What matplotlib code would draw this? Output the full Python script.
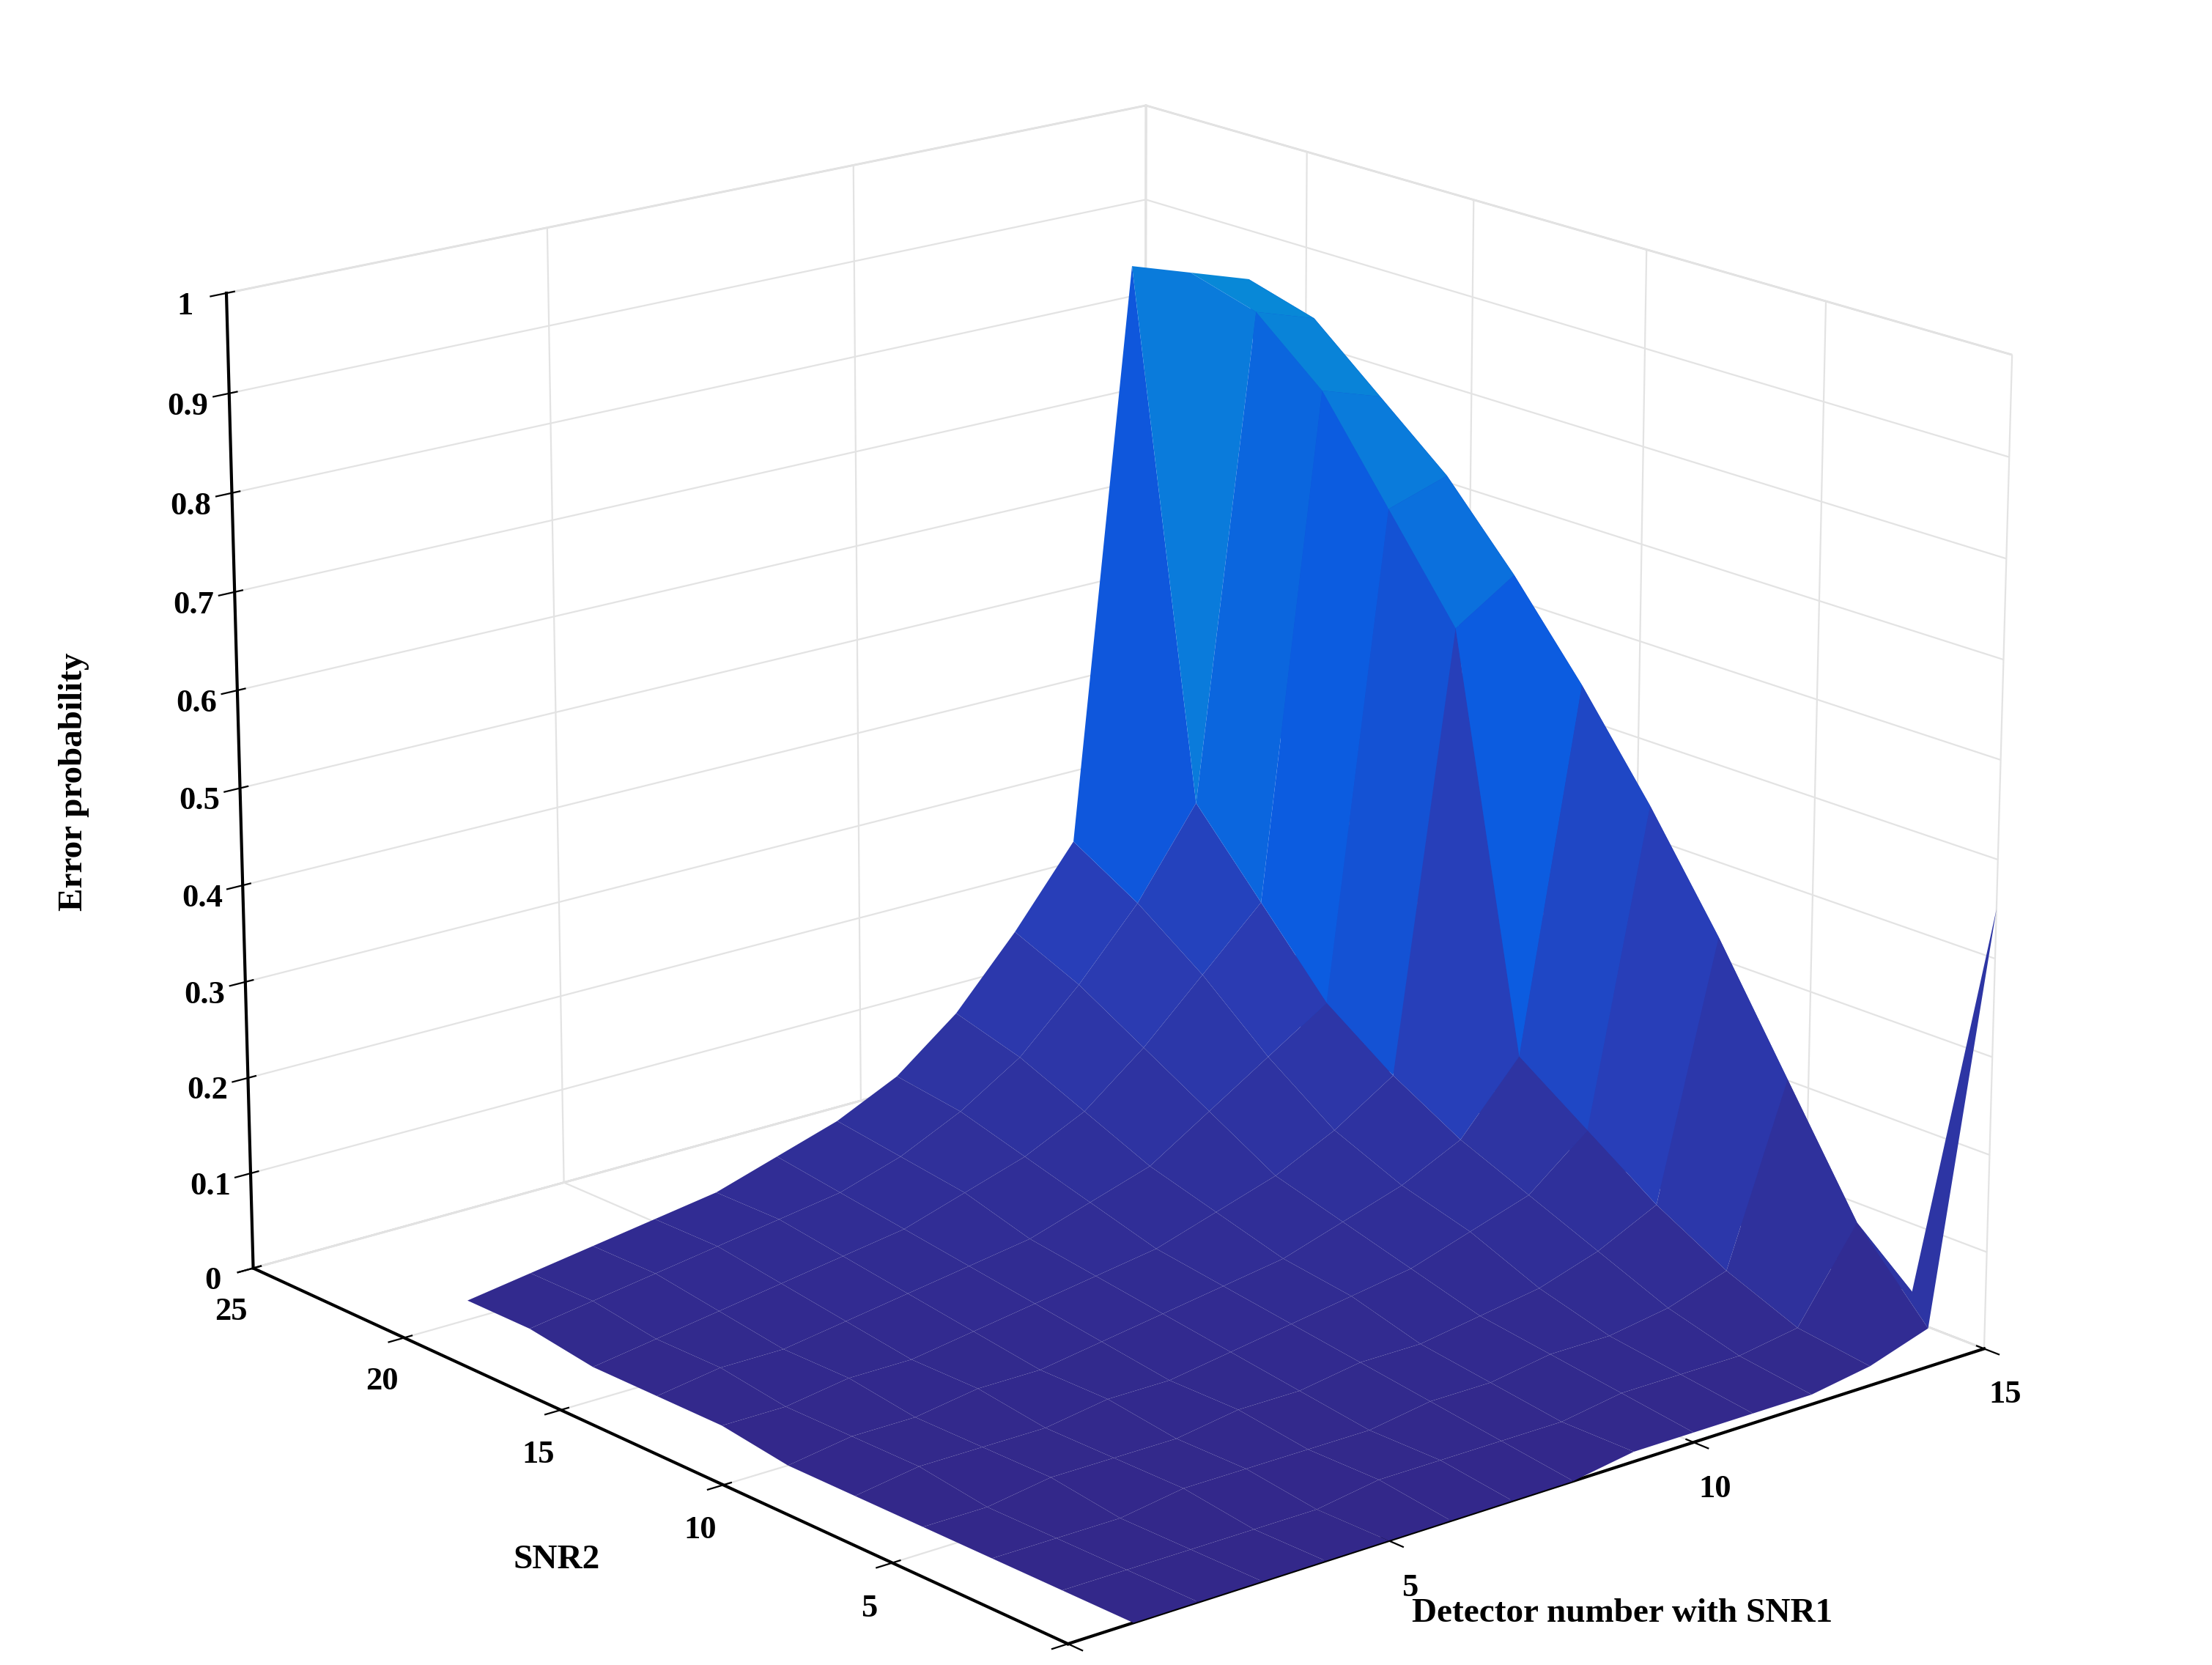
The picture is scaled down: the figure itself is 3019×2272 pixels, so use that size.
import numpy as np
import matplotlib.pyplot as plt
from matplotlib.colors import LinearSegmentedColormap

plt.rcParams['font.family'] = ['Liberation Serif', 'DejaVu Serif']
plt.rcParams['font.weight'] = 'bold'

# detector number with SNR1 (columns) and SNR2 (rows)
detector = [1, 2, 3, 4, 5, 6, 7, 8, 9, 10, 11, 12, 13, 14, 15]
snr2 = [0, 2, 4, 6, 8, 10, 12, 14, 16, 18, 20]

# estimated error probability, one row per SNR2 value
err_prob = [
    [0.00, 0.00, 0.00, 0.00, 0.00, 0.00, 0.00, 0.00, 0.01, 0.01, 0.01, 0.01, 0.02, 0.04, 0.45],
    [0.00, 0.00, 0.00, 0.00, 0.00, 0.01, 0.01, 0.01, 0.01, 0.02, 0.02, 0.02, 0.03, 0.12, 0.03],
    [0.00, 0.00, 0.00, 0.01, 0.01, 0.01, 0.01, 0.02, 0.02, 0.03, 0.03, 0.04, 0.06, 0.24, 0.02],
    [0.00, 0.00, 0.01, 0.01, 0.01, 0.02, 0.02, 0.03, 0.03, 0.04, 0.05, 0.07, 0.10, 0.36, 0.03],
    [0.00, 0.01, 0.01, 0.01, 0.02, 0.02, 0.03, 0.04, 0.05, 0.06, 0.08, 0.10, 0.15, 0.47, 0.03],
    [0.00, 0.01, 0.01, 0.02, 0.02, 0.03, 0.04, 0.05, 0.06, 0.08, 0.10, 0.13, 0.20, 0.57, 0.04],
    [0.01, 0.01, 0.02, 0.02, 0.03, 0.04, 0.05, 0.06, 0.08, 0.10, 0.13, 0.17, 0.62, 0.66, 0.04],
    [0.01, 0.02, 0.02, 0.03, 0.04, 0.05, 0.06, 0.08, 0.10, 0.14, 0.18, 0.22, 0.72, 0.74, 0.04],
    [0.01, 0.02, 0.03, 0.04, 0.05, 0.06, 0.08, 0.10, 0.13, 0.18, 0.24, 0.30, 0.82, 0.80, 0.05],
    [0.02, 0.03, 0.04, 0.05, 0.06, 0.07, 0.09, 0.12, 0.16, 0.22, 0.29, 0.38, 0.88, 0.86, 0.05],
    [0.02, 0.03, 0.04, 0.05, 0.06, 0.08, 0.10, 0.13, 0.18, 0.25, 0.33, 0.92, 0.90, 0.88, 0.05],
]

X, Y = np.meshgrid(detector, snr2)
Z = np.array(err_prob)

cmap = LinearSegmentedColormap.from_list(
    'parula_low', ['#33288a', '#2a3cb4', '#0c5ae0', '#0a78dc', '#0696d2'])

fig = plt.figure(figsize=(15.095, 11.36), dpi=200)
ax = fig.add_axes([-0.07, -0.08, 1.12, 1.14], projection='3d')
ax.plot_surface(X, Y, Z, cmap=cmap, vmin=0, vmax=1, rstride=1, cstride=1,
                linewidth=0.3, edgecolor='none', antialiased=True, shade=False)

ax.set_xlim(0, 15)
ax.set_ylim(0, 25)
ax.set_zlim(0, 1)
ax.set_xticks([0, 5, 10, 15])
ax.set_yticks([0, 5, 10, 15, 20, 25])
ax.set_zticks(np.round(np.arange(0, 1.01, 0.1), 1))
ax.set_zticklabels(['0'] + [f'{v:.1f}' for v in np.arange(0.1, 0.95, 0.1)] + ['1'])
ax.tick_params(labelsize=16)

ax.xaxis.set_rotate_label(False)
ax.yaxis.set_rotate_label(False)
ax.zaxis.set_rotate_label(False)
ax.set_xlabel('Detector number with SNR1', fontsize=17, fontweight='bold', labelpad=22)
ax.set_ylabel('SNR2', fontsize=17, fontweight='bold', labelpad=22)
ax.set_zlabel('Error probability', fontsize=17, fontweight='bold', labelpad=26, rotation=90)

for axis in (ax.xaxis, ax.yaxis, ax.zaxis):
    axis.set_pane_color((1, 1, 1, 1))
    axis.pane.set_edgecolor('#d9d9d9')
    axis._axinfo['grid']['color'] = '#e3e3e3'
    axis._axinfo['grid']['linewidth'] = 0.8
    axis.line.set_linewidth(1.5)

ax.view_init(elev=18, azim=-130)
ax.set_box_aspect((1.1, 1.2, 0.95), zoom=1.05)

fig.savefig('out.png', dpi=200)
